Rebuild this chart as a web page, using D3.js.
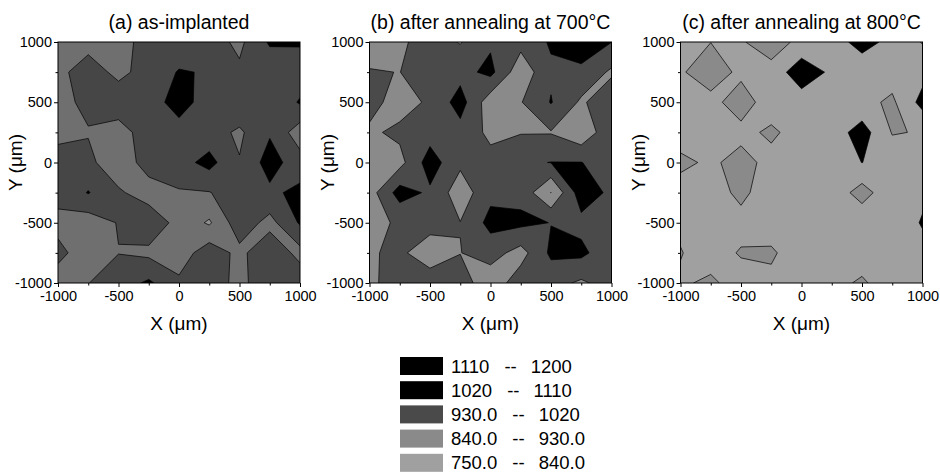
<!DOCTYPE html>
<html>
<head>
<meta charset="utf-8">
<title>implant contour maps</title>
<script src="https://cdn.jsdelivr.net/npm/d3@7"></script>
<style>
body { margin: 0; background: #fff; }
svg text { font-family: "Liberation Sans", Arial, sans-serif; fill: #000; }
</style>
</head>
<body>
<svg id="chart" width="940" height="472"></svg>
<script>
// measurement grid, 250 um step (rows listed from top Y=1000 to bottom Y=-1000)
var gridX = [-1000, -750, -500, -250, 0, 250, 500, 750, 1000];
var gridY = [1000, 750, 500, 250, 0, -250, -500, -750, -1000];

var asImplanted = [
  [880, 890, 900, 960, 975, 970, 910, 1032, 1032],
  [900, 985, 900, 975, 1025, 1015, 946, 954, 960],
  [905, 949, 1000, 975, 1060, 975, 1000, 935, 1030],
  [900, 925, 879, 990, 982, 967, 915, 1010, 880],
  [975, 950, 875, 968, 985, 1050, 935, 1060, 967],
  [950, 1025, 942, 889, 922, 926, 980, 1000, 1045],
  [913, 881, 935, 990, 900, 828, 983, 900, 1030],
  [945, 900, 928, 910, 880, 983, 906, 1000, 900],
  [903, 928, 978, 1035, 948, 975, 905, 990, 990]
];
var anneal700 = [
  [900, 915, 967, 925, 1006, 960, 1030, 1080, 1021],
  [934, 929, 970, 988, 1045, 870, 1005, 997, 915],
  [960, 893, 944, 1059, 875, 925, 1025, 915, 1000],
  [915, 950, 981, 987, 910, 925, 925, 864, 996],
  [900, 900, 1064, 948, 958, 1005, 1022, 1022, 980],
  [889, 1059, 1005, 880, 996, 992, 838, 1070, 1001],
  [906, 941, 950, 932, 1048, 1041, 1018, 994, 985],
  [925, 940, 900, 928, 967, 895, 1037, 1041, 960],
  [920, 953, 959, 972, 874, 980, 963, 915, 970]
];
var anneal800 = [
  [800, 838, 829, 900, 806, 787, 720, 773, 845],
  [822, 925, 804, 798, 702, 765, 801, 801, 781],
  [805, 790, 921, 752, 789, 800, 814, 856, 720],
  [755, 800, 792, 870, 767, 796, 711, 845, 835],
  [880, 810, 900, 786, 800, 800, 749, 790, 800],
  [762, 782, 870, 770, 800, 780, 880, 772, 762],
  [820, 800, 799, 770, 800, 800, 770, 790, 745],
  [845, 790, 850, 860, 760, 800, 787, 800, 770],
  [825, 860, 790, 807, 800, 808, 855, 780, 800]
];

var levels = [750, 840, 930, 1020, 1110];
var titles = ["(a) as-implanted", "(b) after annealing at 700\u00b0C", "(c) after annealing at 800\u00b0C"];
var majorTicks = [-1000, -500, 0, 500, 1000];
var minorTicks = [-750, -250, 250, 750];
var legendLow = ["1110", "1020", "930.0", "840.0", "750.0"];
var legendHigh = ["1200", "1110", "1020", "930.0", "840.0"];

// fill for: below 750, 750-840, 840-930, 930-1020, 1020-1110, above 1110
var panelColors = [
  ["#000", "#8e8e8e", "#6f6f6f", "#464646", "#000", "#000"],
  ["#000", "#a0a0a0", "#8a8a8a", "#4a4a4a", "#000", "#000"],
  ["#000", "#a0a0a0", "#8a8a8a", "#4a4a4a", "#000", "#000"]
];
var legendColors = ["#000", "#000", "#4a4a4a", "#8a8a8a", "#a0a0a0"];

var W = 242, H = 241, plotTop = 42;
var panelLeft = [58, 369.5, 680.5];
var grids = [asImplanted, anneal700, anneal800];

var svg = d3.select("#chart");

// repeat the border rows/cols so the edge cells get no border artefacts
function pad(g) {
  var rows = g.map(function(r) { return [r[0]].concat(r, [r[r.length - 1]]); });
  return [rows[0]].concat(rows, [rows[rows.length - 1]]);
}

grids.forEach(function(grid, p) {
  var x0 = panelLeft[p];
  var x = d3.scaleLinear().domain([-1000, 1000]).range([x0, x0 + W]);
  var y = d3.scaleLinear().domain([-1000, 1000]).range([plotTop + H, plotTop]);
  var step = gridX[1] - gridX[0];

  var values = d3.merge(pad(grid));
  var contours = d3.contours()
    .size([gridX.length + 2, gridY.length + 2])
    .thresholds(levels)(values);

  var path = d3.geoPath(d3.geoTransform({
    point: function(u, v) {
      this.stream.point(x(gridX[0] + step * (u - 1.5)), y(gridY[0] - step * (v - 1.5)));
    }
  }));

  svg.append("clipPath").attr("id", "clip" + p)
    .append("rect").attr("x", x0).attr("y", plotTop).attr("width", W).attr("height", H);

  var g = svg.append("g").attr("clip-path", "url(#clip" + p + ")");
  g.append("rect")
    .attr("x", x0).attr("y", plotTop).attr("width", W).attr("height", H)
    .attr("fill", panelColors[p][0]);

  g.selectAll("path")
    .data(contours)
    .enter().append("path")
    .attr("d", path)
    .attr("fill", function(d, i) { return panelColors[p][i + 1]; })
    .attr("fill-rule", "evenodd")
    .attr("stroke", "#000")
    .attr("stroke-width", 0.7);

  // frame
  svg.append("rect")
    .attr("x", x0).attr("y", plotTop).attr("width", W).attr("height", H)
    .attr("fill", "none").attr("stroke", "#000").attr("stroke-width", 1);

  // axes
  var fmt = function(d) { return String(d); };
  var xAxis = svg.append("g").attr("transform", "translate(0," + (plotTop + H) + ")");
  xAxis.call(d3.axisBottom(x).tickValues(majorTicks).tickSize(4).tickPadding(4).tickFormat(fmt));
  xAxis.append("g").call(d3.axisBottom(x).tickValues(minorTicks).tickSize(2.5).tickFormat(""));

  var yAxis = svg.append("g").attr("transform", "translate(" + x0 + ",0)");
  yAxis.call(d3.axisLeft(y).tickValues(majorTicks).tickSize(4).tickPadding(2).tickFormat(fmt));
  yAxis.append("g").call(d3.axisLeft(y).tickValues(minorTicks).tickSize(2.5).tickFormat(""));

  svg.selectAll(".domain").remove();
  xAxis.selectAll("text").attr("font-size", 14.5).attr("font-family", "Liberation Sans, Arial, sans-serif");
  yAxis.selectAll("text").attr("font-size", 14.5).attr("font-family", "Liberation Sans, Arial, sans-serif");

  svg.append("text")
    .attr("x", x0 + W / 2).attr("y", 29)
    .attr("text-anchor", "middle").attr("font-size", 19.5)
    .text(titles[p]);

  svg.append("text")
    .attr("x", x0 + W / 2).attr("y", 330)
    .attr("text-anchor", "middle").attr("font-size", 19)
    .text("X (\u03bcm)");

  svg.append("text")
    .attr("transform", "translate(" + (x0 - 36) + "," + (plotTop + H / 2) + ") rotate(-90)")
    .attr("text-anchor", "middle").attr("font-size", 19)
    .text("Y (\u03bcm)");
});

// legend
var legend = svg.append("g").attr("transform", "translate(400,357)");
legendLow.forEach(function(lo, i) {
  legend.append("rect")
    .attr("x", 0).attr("y", i * 24.2).attr("width", 43).attr("height", 18)
    .attr("fill", legendColors[i]);
  var t = legend.append("text")
    .attr("x", 51).attr("y", i * 24.2 + 15.5)
    .attr("font-size", 18.5);
  t.append("tspan").text(lo);
  t.append("tspan").attr("dx", 15).text("--");
  t.append("tspan").attr("dx", 14).text(legendHigh[i]);
});
</script>
</body>
</html>
